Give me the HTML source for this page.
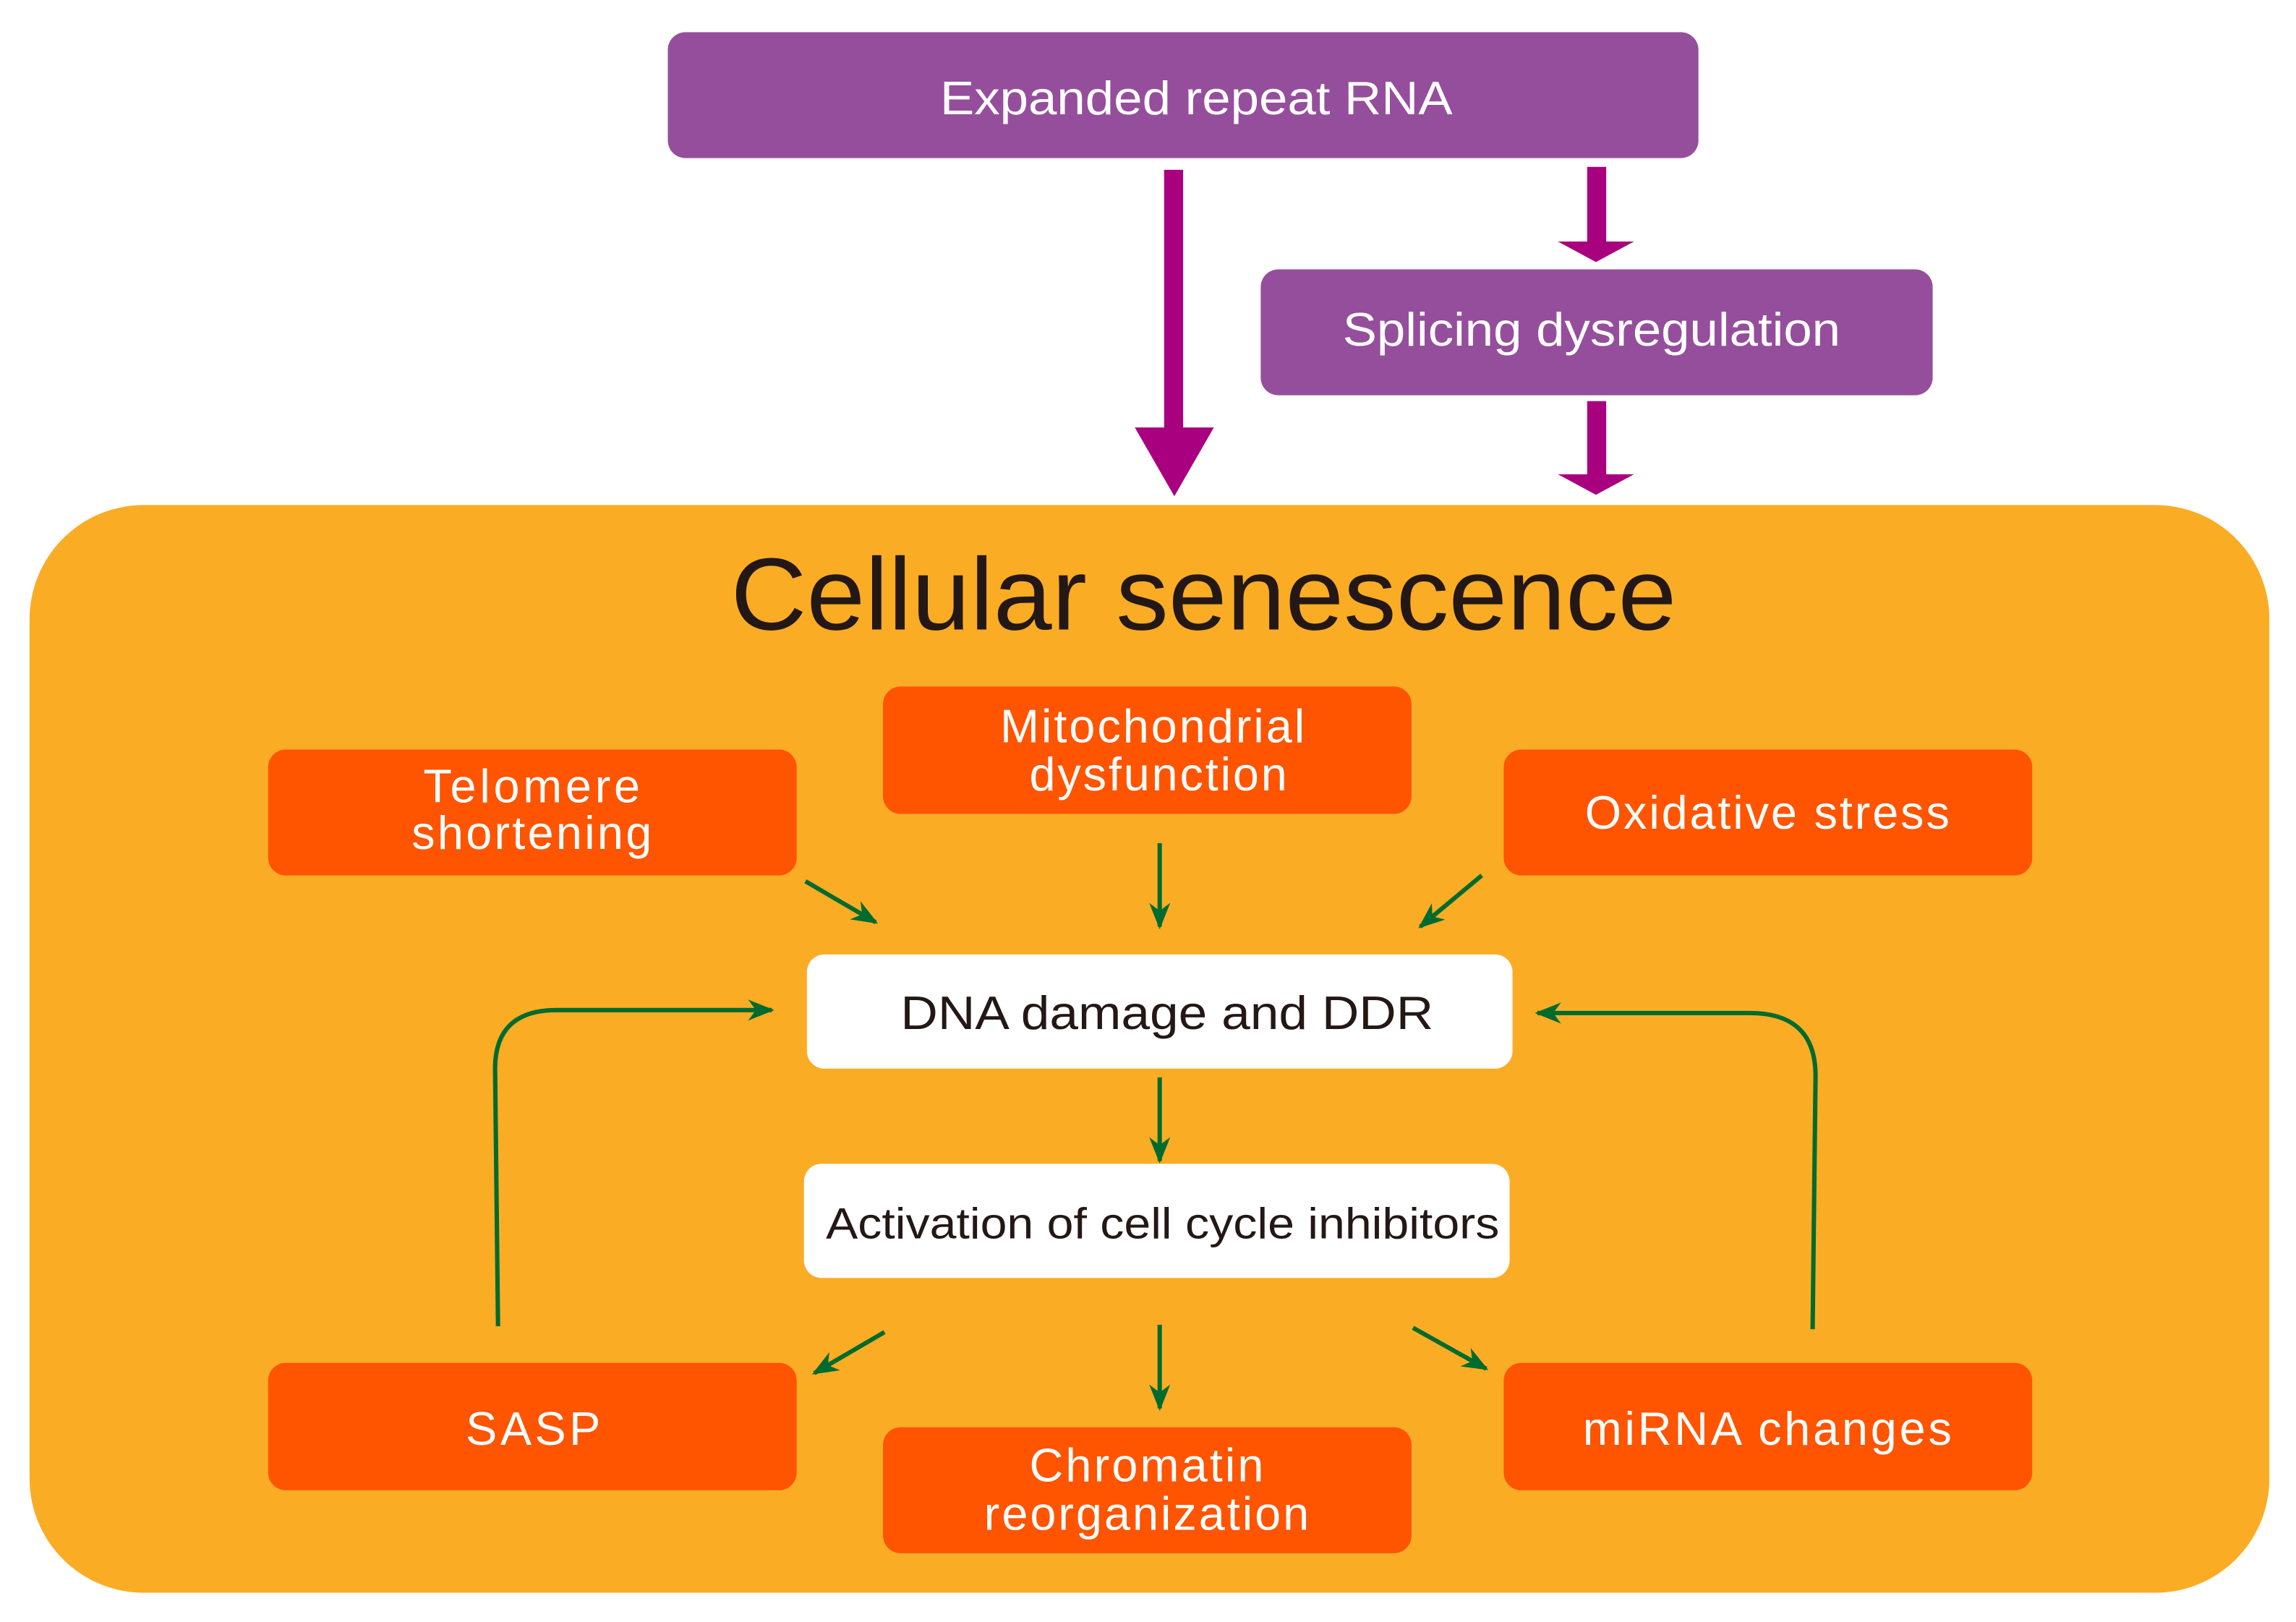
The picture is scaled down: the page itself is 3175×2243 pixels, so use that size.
<!DOCTYPE html>
<html><head><meta charset="utf-8"><style>
html,body{margin:0;padding:0;background:#fff;}
svg{display:block;}
text{font-family:"Liberation Sans",Arial,sans-serif;}
</style></head><body>
<svg width="3175" height="2243" viewBox="0 0 1568 1108" xmlns="http://www.w3.org/2000/svg">
<defs>
<marker id="g" viewBox="0 0 10 10" refX="9" refY="5" markerWidth="7" markerHeight="6" orient="auto" markerUnits="strokeWidth">
<path d="M0,1 L10,5 L0,9 L3,5 Z" fill="#006b2e"/>
</marker>
</defs>
<rect x="456" y="22" width="704" height="86" rx="12" fill="#954e9c"/>
<text x="817" y="78" font-size="32" fill="#fff" text-anchor="middle" textLength="350" lengthAdjust="spacingAndGlyphs">Expanded repeat RNA</text>
<rect x="861" y="184" width="459" height="86" rx="12" fill="#954e9c"/>
<text x="1087" y="236" font-size="32" fill="#fff" text-anchor="middle" textLength="340" lengthAdjust="spacingAndGlyphs">Splicing dysregulation</text>
<rect x="795" y="116" width="13" height="177" fill="#a8007f"/>
<polygon points="775,292 829,292 802,339" fill="#a8007f"/>
<rect x="1084" y="114" width="13" height="52" fill="#a8007f"/>
<polygon points="1064,165 1116,165 1090,179" fill="#a8007f"/>
<rect x="1084" y="274" width="13" height="51" fill="#a8007f"/>
<polygon points="1064,324 1116,324 1090,338" fill="#a8007f"/>
<rect x="20" y="345" width="1530" height="743" rx="78" fill="#fbac25"/>
<text x="822" y="430" font-size="70" fill="#231815" text-anchor="middle" textLength="646" lengthAdjust="spacingAndGlyphs">Cellular senescence</text>
<g fill="#ff5400">
<rect x="183" y="512" width="361" height="86" rx="12"/>
<rect x="603" y="469" width="361" height="87" rx="12"/>
<rect x="1027" y="512" width="361" height="86" rx="12"/>
<rect x="183" y="931" width="361" height="87" rx="12"/>
<rect x="603" y="975" width="361" height="86" rx="12"/>
<rect x="1027" y="931" width="361" height="87" rx="12"/>
</g>
<g fill="#fff" font-size="32" text-anchor="middle" lengthAdjust="spacingAndGlyphs">
<text x="363" y="548" textLength="148">Telomere</text>
<text x="363" y="580" textLength="164">shortening</text>
<text x="787" y="507" textLength="208">Mitochondrial</text>
<text x="791" y="540" textLength="176">dysfunction</text>
<text x="1207" y="566" textLength="249">Oxidative stress</text>
<text x="364" y="987" textLength="92">SASP</text>
<text x="783" y="1012" textLength="160">Chromatin</text>
<text x="783" y="1045" textLength="222">reorganization</text>
<text x="1207" y="987" textLength="252">miRNA changes</text>
</g>
<rect x="551" y="652" width="482" height="78" rx="12" fill="#fff"/>
<rect x="549" y="795" width="482" height="78" rx="12" fill="#fff"/>
<text x="797" y="703" font-size="32" fill="#231815" text-anchor="middle" textLength="364" lengthAdjust="spacingAndGlyphs">DNA damage and DDR</text>
<text x="794" y="846" font-size="30" fill="#231815" text-anchor="middle" textLength="460" lengthAdjust="spacingAndGlyphs">Activation of cell cycle inhibitors</text>
<g stroke="#006b2e" stroke-width="3" fill="none" marker-end="url(#g)">
<line x1="550" y1="602" x2="598" y2="630"/>
<line x1="792" y1="576" x2="792" y2="633"/>
<line x1="1012" y1="598" x2="970" y2="633"/>
<line x1="792" y1="736" x2="792" y2="793"/>
<line x1="604" y1="910" x2="556" y2="938"/>
<line x1="792" y1="905" x2="792" y2="962"/>
<line x1="965" y1="907" x2="1015" y2="935"/>
<path d="M340,906 L338,730 Q338,690 380,690 L527,690"/>
<path d="M1238,908 L1240,735 Q1240,692 1195,692 L1050,692"/>
</g>
</svg>
</body></html>
